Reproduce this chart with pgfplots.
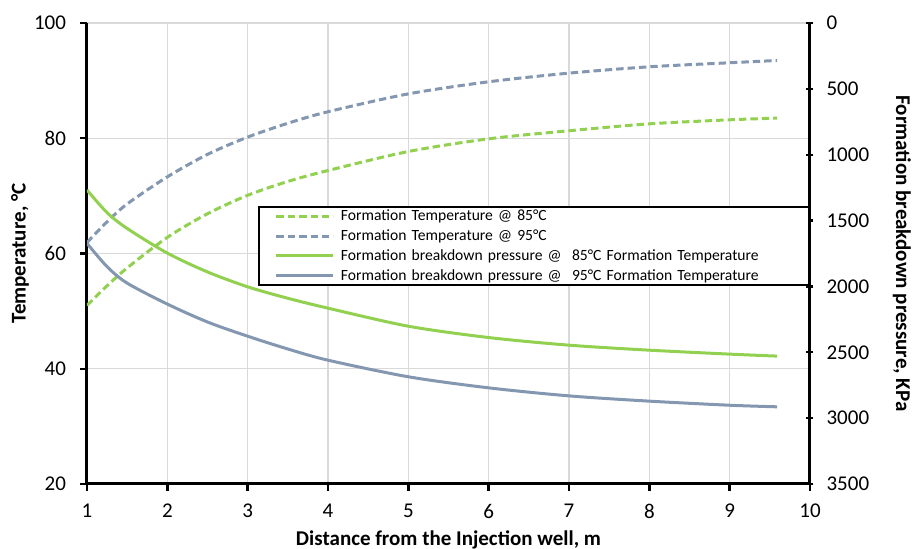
\documentclass[border=0pt]{standalone}
\usepackage{fontspec}
\setmainfont{Carlito}
\usepackage{pgfplots}
\pgfplotsset{compat=1.18}
\usepackage{pgfplotstable}

\definecolor{grn}{RGB}{146,208,80}
\definecolor{blu}{RGB}{132,151,176}
\definecolor{gridgray}{RGB}{217,217,217}

% distance (m), temperature (C) for both cases, breakdown pressure (KPa) for both cases
\pgfplotstableread{
x     T85   T95   P85   P95
1     51.0  61.9  1268  1673
1.25  54.4  65.5  1440  1850
1.5   57.5  68.6  1560  1975
2     62.8  73.3  1747  2134
2.5   66.9  77.2  1890  2270
3     70.1  80.2  2003  2378
3.5   72.5  82.6  2090  2475
4     74.4  84.6  2165  2560
5     77.7  87.7  2302  2686
6     79.9  89.8  2388  2770
7     81.3  91.3  2446  2831
8     82.5  92.4  2484  2871
9     83.2  93.1  2514  2902
9.59  83.5  93.5  2529  2914
}\data

\begin{document}
\begin{tikzpicture}
% page = 914 x 549 px at 0.5pt per px, axis box from (87,23) to (810,484)
\path[use as bounding box] (-43.5pt,-32.5pt) rectangle (413.5pt,242pt);
\pgfplotsset{
  every axis/.append style={
    scale only axis, width=361.5pt, height=230.5pt,
    xmin=1, xmax=10,
    font=\fontsize{10.5}{12}\selectfont,
    /pgf/number format/assume math mode=true,
    /pgf/number format/1000 sep={},
    axis line style={line width=1.5pt},
    tick style={black, line width=1.2pt},
    major tick length=3.5pt,
  },
  tdash/.style={line width=1.5pt, dash pattern=on 3.7pt off 2pt},
  psolid/.style={line width=1.5pt},
}
\begin{axis}[
  axis x line*=bottom, axis y line*=left,
  ymin=20, ymax=100, ytick={20,40,...,100},
  xtick={1,...,10},
  grid=major, major grid style={gridgray, line width=0.6pt},
  tick align=outside,
  yticklabel style={xshift=-3.5pt},
  xticklabel style={yshift=-3pt},
  xlabel={\bfseries Distance from the Injection well, m},
  ylabel={\bfseries Temperature, °C},
  xlabel style={at={(axis description cs:0.5,-0.1215)}, anchor=center},
  ylabel style={at={(axis description cs:-0.0927,0.5)}, anchor=center},
]
\addplot[grn, tdash, smooth] table[x=x, y=T85] {\data};
\addplot[blu, tdash, smooth] table[x=x, y=T95] {\data};
\end{axis}
\begin{axis}[
  axis x line=none, axis y line*=right,
  y dir=reverse, ymin=0, ymax=3500, ytick={0,500,...,3500},
  tick align=center,
  yticklabel style={xshift=3pt},
  ylabel={\bfseries Formation breakdown pressure, KPa},
  ylabel style={at={(axis description cs:1.1272,0.5)}, anchor=center, rotate=180},
  legend image code/.code={
    \path (0pt,0pt) -- (0pt,0pt);
    \draw[#1] (8pt,0pt) -- (36.5pt,0pt);
  },
  legend style={at={(0.2365,0.6037)}, anchor=north west, draw=black, line width=1pt,
    font=\fontsize{7.8}{9.9}\selectfont, inner xsep=0pt, inner ysep=0.8pt,
    row sep=1.8pt, column sep=3pt,
    nodes={inner sep=0pt, text height=6.2pt, text depth=1.9pt}},
  legend cell align=left,
  legend columns=1,
]
\addlegendimage{grn, tdash}
\addlegendentry[text width=234pt]{Formation Temperature @ 85°C}
\addlegendimage{blu, tdash}
\addlegendentry[text width=234pt]{Formation Temperature @ 95°C}
\addplot[grn, psolid, smooth] table[x=x, y=P85] {\data};
\addlegendentry[text width=234pt]{Formation breakdown pressure @\ \ 85°C Formation Temperature}
\addplot[blu, psolid, smooth] table[x=x, y=P95] {\data};
\addlegendentry[text width=234pt]{Formation breakdown pressure @\ \ 95°C Formation Temperature}
\end{axis}
\end{tikzpicture}
\end{document}
